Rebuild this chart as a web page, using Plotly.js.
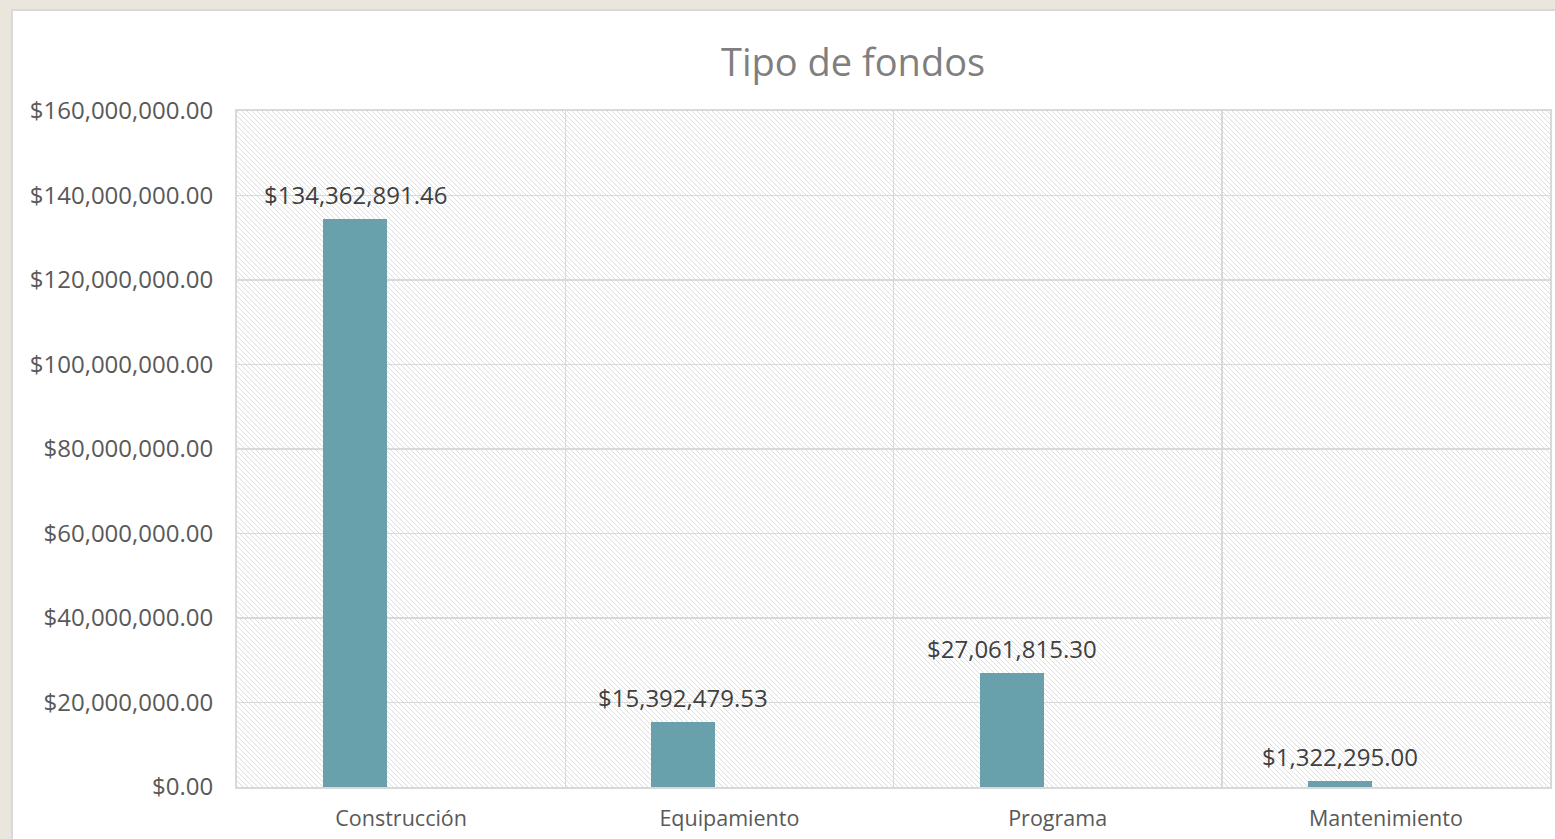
<!DOCTYPE html>
<html>
<head>
<meta charset="utf-8">
<script src="https://cdn.plot.ly/plotly-3.0.1.min.js"></script>
<style>
  html, body { margin: 0; padding: 0; width: 1555px; height: 839px; overflow: hidden; background: #EBE6DD; }
  #frame { position: absolute; left: 11px; top: 9px; width: 1600px; height: 900px; background: #ffffff; border: 2px solid #D9D9D9; box-sizing: border-box; }
  #chart { position: absolute; left: 0; top: 0; width: 1555px; height: 839px; }
</style>
</head>
<body>
<div id="frame"></div>
<div id="chart"></div>
<script>
const categories = ["Construcción", "Equipamiento", "Programa", "Mantenimiento"];
const values = [134362891.46, 15392479.53, 27061815.30, 1322295.00];
const yTickValues = [0, 20000000, 40000000, 60000000, 80000000, 100000000, 120000000, 140000000, 160000000];

const plotW = 1313, plotH = 676;
const hatchSvg = '<svg xmlns="http://www.w3.org/2000/svg" width="' + plotW + '" height="' + plotH + '">' +
  '<defs><pattern id="h" patternUnits="userSpaceOnUse" width="5" height="5">' +
  '<path d="M0,0 L5,5 M-1,4 L1,6 M4,-1 L6,1" stroke="#DEDEDE" stroke-width="1" shape-rendering="crispEdges"/>' +
  '</pattern></defs><rect width="100%" height="100%" fill="#ffffff"/><rect width="100%" height="100%" fill="url(#h)"/></svg>';
const hatchUri = 'data:image/svg+xml;base64,' + btoa(hatchSvg);

const font = '"Open Sans", "Liberation Sans", Arial, sans-serif';

const barWidth = 0.195, barOffset = -0.238;
const catPx = 328;
const labelShift = (barOffset + barWidth / 2) * catPx;

const trace = {
  type: 'bar',
  x: categories,
  y: values,
  width: barWidth,
  offset: barOffset,
  marker: { color: '#68A1AB' },
  hoverinfo: 'x+y'
};

const fmt = v => '$' + v.toLocaleString('en-US', { minimumFractionDigits: 2, maximumFractionDigits: 2 });

const annotations = categories.map((c, i) => ({
  x: c, y: values[i], xref: 'x', yref: 'y',
  text: fmt(values[i]),
  showarrow: false,
  xanchor: 'center', yanchor: 'bottom',
  xshift: labelShift, yshift: 6,
  font: { family: font, size: 24, color: '#404040' }
}));

const layout = {
  width: 1555,
  height: 839,
  paper_bgcolor: 'rgba(0,0,0,0)',
  plot_bgcolor: 'rgba(0,0,0,0)',
  margin: { l: 237, r: 5, t: 111, b: 52, pad: 0 },
  showlegend: false,
  title: {
    text: 'Tipo de fondos',
    font: { family: font, size: 38, color: '#7F7F7F' },
    x: 0.5486, xanchor: 'center',
    y: 1 - 63 / 839, yanchor: 'middle', yref: 'container'
  },
  xaxis: {
    type: 'category',
    tickson: 'boundaries',
    showgrid: true,
    gridcolor: '#D9D9D9',
    gridwidth: 1.5,
    showline: true,
    linecolor: '#D9D9D9',
    linewidth: 2,
    mirror: true,
    ticks: '',
    ticklabelstandoff: 11,
    tickfont: { family: font, size: 21.5, color: '#595959' },
    fixedrange: true
  },
  yaxis: {
    range: [0, 160000000],
    tickvals: yTickValues,
    tickformat: '$,.2f',
    showgrid: true,
    gridcolor: '#D9D9D9',
    gridwidth: 1.5,
    zeroline: false,
    showline: true,
    linecolor: '#D9D9D9',
    linewidth: 2,
    mirror: true,
    ticks: '',
    ticklabelstandoff: 17,
    tickfont: { family: font, size: 24, color: '#595959' },
    fixedrange: true
  },
  annotations: annotations,
  images: [{
    source: hatchUri,
    xref: 'paper', yref: 'paper',
    x: 0, y: 1, sizex: 1, sizey: 1,
    xanchor: 'left', yanchor: 'top',
    sizing: 'stretch',
    layer: 'below'
  }],
  bargap: 0
};

Plotly.newPlot('chart', [trace], layout, { displayModeBar: false, staticPlot: true });
</script>
</body>
</html>
